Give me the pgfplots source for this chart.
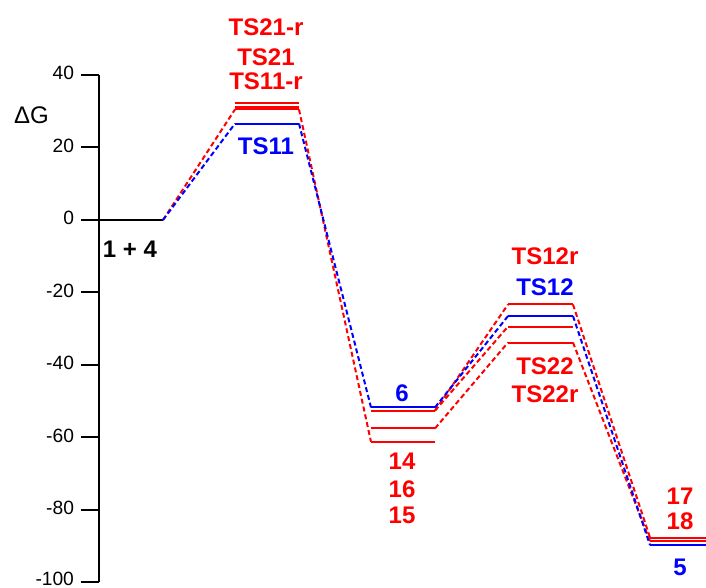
\documentclass[border=0pt]{standalone}
\usepackage{pgfplots}
\pgfplotsset{compat=1.18}
\usepackage{fontspec}
\setmainfont{Liberation Sans}
\tikzset{
  lvl/.style={line width=1pt},
  con/.style={line width=1pt, dash pattern=on 2.5pt off 1.5pt},
  lab/.style={font=\fontsize{12}{14}\selectfont\bfseries},
}
\begin{document}
\begin{tikzpicture}[x=1pt,y=1pt]
\begin{axis}[
  scale only axis, width=303.5pt, height=253.75pt,
  xmin=99, xmax=706, ymin=-100, ymax=40,
  clip=false,
  axis x line=none, axis y line=left,
  axis line style={-, line width=1pt, black},
  ytick={-100,-80,-60,-40,-20,0,20,40},
  yticklabels={\raisebox{2pt}{-100},-80,-60,-40,-20,0,20,40},
  tick align=outside,
  major tick length=9pt,
  every tick/.style={black, line width=1pt},
  yticklabel style={font=\fontsize{9.6}{11}\selectfont, inner ysep=0pt, yshift=1pt},
]
% levels
\addplot[lvl, black] coordinates {(99,0) (163,0)};
\addplot[lvl, red] coordinates {(235,32.3) (299,32.3)};
\addplot[lvl, red] coordinates {(235,31.2) (299,31.2)};
\addplot[lvl, red] coordinates {(235,30.5) (299,30.5)};
\addplot[lvl, blue] coordinates {(235,26.6) (299,26.6)};
\addplot[lvl, blue] coordinates {(371,-51.7) (435,-51.7)};
\addplot[lvl, red] coordinates {(371,-52.6) (435,-52.6)};
\addplot[lvl, red] coordinates {(371,-57.5) (435,-57.5)};
\addplot[lvl, red] coordinates {(371,-61.2) (435,-61.2)};
\addplot[lvl, red] coordinates {(508,-23.3) (573,-23.3)};
\addplot[lvl, blue] coordinates {(508,-26.5) (573,-26.5)};
\addplot[lvl, red] coordinates {(508,-29.4) (573,-29.4)};
\addplot[lvl, red] coordinates {(508,-33.8) (573,-33.8)};
\addplot[lvl, red] coordinates {(650,-87.6) (706,-87.6)};
\addplot[lvl, red] coordinates {(650,-88.6) (706,-88.6)};
\addplot[lvl, blue] coordinates {(650,-89.7) (706,-89.7)};
% connectors
\addplot[con, red] coordinates {(163,0) (235,30.5)};
\addplot[con, blue] coordinates {(163,0) (235,26.6)};
\addplot[con, red] coordinates {(299,30.5) (371,-61.2)};
\addplot[con, blue] coordinates {(299,26.6) (371,-51.7)};
\addplot[con, red] coordinates {(435,-52.6) (508,-23.3)};
\addplot[con, red] coordinates {(435,-52.6) (508,-29.4)};
\addplot[con, red] coordinates {(435,-57.5) (508,-33.8)};
\addplot[con, blue] coordinates {(435,-51.7) (508,-26.5)};
\addplot[con, red] coordinates {(573,-23.3) (650,-87.6)};
\addplot[con, red] coordinates {(573,-33.8) (650,-88.6)};
\addplot[con, blue] coordinates {(573,-26.5) (650,-89.7)};
% labels
\node[lab, black] at (axis cs:130,-8.0) {1 + 4};
\node[lab, red] at (axis cs:266,53.1) {TS21-r};
\node[lab, red] at (axis cs:266,45.0) {TS21};
\node[lab, red] at (axis cs:266,38.2) {TS11-r};
\node[lab, blue] at (axis cs:266,20.4) {TS11};
\node[lab, blue] at (axis cs:402,-47.9) {6};
\node[lab, red] at (axis cs:402,-66.5) {14};
\node[lab, red] at (axis cs:402,-74.2) {16};
\node[lab, red] at (axis cs:402,-81.4) {15};
\node[lab, red] at (axis cs:545,-10.1) {TS12r};
\node[lab, blue] at (axis cs:545,-18.6) {TS12};
\node[lab, red] at (axis cs:545,-40.3) {TS22};
\node[lab, red] at (axis cs:545,-48.0) {TS22r};
\node[lab, red] at (axis cs:680,-76.1) {17};
\node[lab, red] at (axis cs:680,-83.2) {18};
\node[lab, blue] at (axis cs:680,-95.9) {5};
\node[font=\fontsize{12}{14}\selectfont] at (axis cs:31.5,29.0) {ΔG};
\end{axis}
\pgfresetboundingbox
\path[use as bounding box] (-49.5pt,-2.75pt) rectangle (303.5pt,291.25pt);
\end{tikzpicture}
\end{document}
